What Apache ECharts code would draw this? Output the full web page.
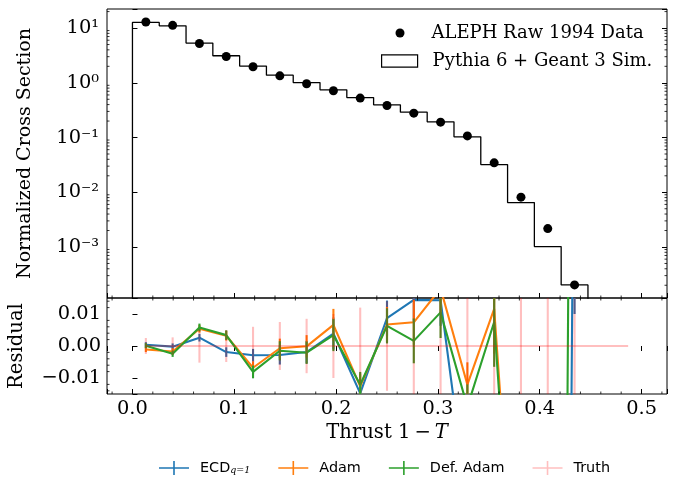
<!DOCTYPE html>
<html><head><meta charset="utf-8">
<script src="https://cdn.jsdelivr.net/npm/echarts@6/dist/echarts.min.js"></script>
<style>html,body{margin:0;padding:0;background:#fff}#c{width:673px;height:477px}</style>
</head><body><div id="c"></div>
<script>
// ---- data ----
const binEdges = [0, 0.02632, 0.05263, 0.07895, 0.10526, 0.13158, 0.15789, 0.18421, 0.21053, 0.23684,
  0.26316, 0.28947, 0.31579, 0.34211, 0.36842, 0.39474, 0.42105, 0.44737, 0.47368, 0.5];
const binCenters = [0.01316, 0.03947, 0.06579, 0.09211, 0.11842, 0.14474, 0.17105, 0.19737, 0.22368, 0.25,
  0.27632, 0.30263, 0.32895, 0.35526, 0.38158, 0.40789, 0.43421, 0.46053, 0.48684];
const alephData = [12.9, 11.2, 5.22, 3.03, 1.96, 1.34, 0.959, 0.715, 0.525, 0.385,
  0.279, 0.191, 0.107, 0.0345, 0.00813, 0.00217, 0.000203, null, null];
const pythiaSim = [12.7, 11.0, 5.32, 3.12, 2.02, 1.38, 1.01, 0.745, 0.538, 0.396,
  0.291, 0.194, 0.103, 0.0321, 0.00649, 0.00102, 0.000203, 0, 0];
const resECD = [0.0004, -0.0002, 0.0026, -0.0019, -0.0029, -0.0028, -0.0019, 0.0039, -0.0148, 0.0087,
  0.0144, 0.0143, -0.049, -0.2, -0.4, -1.0, 0.11, null, null];
const resAdam = [-0.0011, -0.0017, 0.0054, 0.0032, -0.0068, -0.0007, -0.0001, 0.0066, -0.0126, 0.0067,
  0.0074, 0.0180, -0.0121, 0.0116, -0.107, -0.6, -1.0, null, null];
const resDefAdam = [0.0001, -0.0024, 0.0058, 0.0034, -0.0081, -0.0015, -0.0021, 0.0034, -0.0121, 0.0063,
  0.0016, 0.0105, -0.019, 0.0075, -0.113, -0.9, 0.3, null, null];
const resTruth = [0, 0, 0, 0, 0, 0, 0, 0, 0, 0, 0, 0, 0, 0, 0, 0, 0, 0, 0];
const errModel = [0.0008, 0.001, 0.0012, 0.0015, 0.002, 0.003, 0.0035, 0.005, 0.004, 0.0055,
  0.007, 0.008, 0.007, 0.014, 0.02, 0.05, 0.1, null, null];
const errTruth = [0.0025, 0.0027, 0.0052, 0.005, 0.006, 0.0075, 0.0085, 0.01, 0.012, 0.014,
  0.02, 0.025, 0.03, 0.05, 0.1, 0.2, 0.5, null, null];
const xMajorTicks = [0, 0.1, 0.2, 0.3, 0.4, 0.5];
const xTickLabels = ['0.0', '0.1', '0.2', '0.3', '0.4', '0.5'];
const logMajorTicks = [1e-3, 1e-2, 1e-1, 1, 10];
const logTickLabels = ['10\u207B\u00B3', '10\u207B\u00B2', '10\u207B\u00B9', '10\u2070', '10\u00B9'];
const resMajorTicks = [-0.01, 0, 0.01];
const resTickLabels = ['\u22120.01', '0.00', '0.01'];

// ---- setup ----
const X_MIN = -0.025, X_MAX = 0.525;
const Y_MIN = 1.17e-4, Y_MAX = 22.3;
const R_MIN = -0.015, R_MAX = 0.015;
const SERIF = 'DejaVu Serif';
const SANS = 'DejaVu Sans';
const C_BLUE = '#1f77b4', C_ORANGE = '#ff7f0e', C_GREEN = '#2ca02c', C_TRUTH = 'rgba(255,0,0,0.25)';
const TICK_FS = 19.4, TITLE_FS = 19.6;

const xMinor = []; for (let k = -1; k <= 26; k++) if (k % 5 !== 0) xMinor.push(+(k * 0.02).toFixed(4));
const logMinor = []; for (let e = -4; e <= 1; e++) for (let m = 2; m <= 9; m++) { const v = m * Math.pow(10, e); if (v > Y_MIN && v < Y_MAX) logMinor.push(v); }
const resMinor = []; for (let k = -7; k <= 7; k++) if (k % 5 !== 0) resMinor.push(+(k * 0.002).toFixed(4));

const histData = [[binEdges[0], 1e-6]];
for (let i = 0; i < pythiaSim.length; i++) {
  if (pythiaSim[i] > 0) histData.push([binEdges[i], pythiaSim[i]]);
  else { histData.push([binEdges[i], 1e-6]); break; }
}
const pts = (ys) => binCenters.map((x, i) => [x, ys[i]]);

function errSeries(name, ys, errs, color, z) {
  return {
    name: name, type: 'custom', xAxisIndex: 2, yAxisIndex: 2, z: z, silent: true,
    data: binCenters.map((x, i) => [x, ys[i], errs[i]]).filter(d => d[1] != null && d[2] != null),
    renderItem: function (params, api) {
      const x = api.value(0), y = api.value(1), e = api.value(2);
      let lo = Math.max(R_MIN, y - e), hi = Math.min(R_MAX, y + e);
      if (lo >= hi) return null;
      const p1 = api.coord([x, lo]), p2 = api.coord([x, hi]);
      return { type: 'line', shape: { x1: p1[0], y1: p1[1], x2: p2[0], y2: p2[1] }, style: { stroke: color, lineWidth: 2.1 } };
    }
  };
}

function tickSeries(xi, yi, data, sides, len) {
  return {
    type: 'custom', xAxisIndex: xi, yAxisIndex: yi, z: 20, silent: true, clip: false,
    data: data,
    renderItem: function (params, api) {
      const cs = params.coordSys;
      const p = api.coord([api.value(0), api.value(1)]);
      const ch = [];
      const st = { stroke: '#000', lineWidth: 0.8 };
      sides.forEach(s => {
        if (s === 'bottom') ch.push({ type: 'line', shape: { x1: p[0], y1: cs.y + cs.height, x2: p[0], y2: cs.y + cs.height - len }, style: st });
        if (s === 'top') ch.push({ type: 'line', shape: { x1: p[0], y1: cs.y, x2: p[0], y2: cs.y + len }, style: st });
        if (s === 'left') ch.push({ type: 'line', shape: { x1: cs.x, y1: p[1], x2: cs.x + len, y2: p[1] }, style: st });
        if (s === 'right') ch.push({ type: 'line', shape: { x1: cs.x + cs.width, y1: p[1], x2: cs.x + cs.width - len, y2: p[1] }, style: st });
      });
      return { type: 'group', children: ch };
    }
  };
}

const tickCommon = { show: true, inside: true, length: 5, lineStyle: { color: '#000', width: 1 } };
const noLabel = { show: false };

const option = {
  backgroundColor: '#fff',
  animation: false,
  textStyle: { fontFamily: SERIF, color: '#000' },
  grid: [
    { left: 107, top: 9, width: 560, height: 289, show: true, borderColor: '#000', borderWidth: 1, backgroundColor: 'transparent', outerBoundsMode: 'none', containLabel: false },
    { left: 107, top: 298, width: 560, height: 96, show: true, borderColor: '#000', borderWidth: 1, backgroundColor: 'transparent', outerBoundsMode: 'none', containLabel: false }
  ],
  xAxis: [
    { type: 'value', gridIndex: 0, min: X_MIN, max: X_MAX, minInterval: 0.1, maxInterval: 0.1, position: 'bottom',
      axisLine: { show: false }, axisTick: tickCommon, axisLabel: noLabel, splitLine: { show: false } },
    { type: 'value', gridIndex: 1, min: X_MIN, max: X_MAX, minInterval: 0.1, maxInterval: 0.1, position: 'top',
      axisLine: { show: false }, axisTick: tickCommon, axisLabel: noLabel, splitLine: { show: false } },
    { type: 'value', gridIndex: 1, min: X_MIN, max: X_MAX, minInterval: 0.1, maxInterval: 0.1, position: 'bottom',
      axisLine: { show: false }, axisTick: tickCommon, splitLine: { show: false }, axisLabel: noLabel,
      name: '{n|Thrust 1\u2009\u2212\u2009}{i|T}', nameLocation: 'middle', nameGap: 29,
      nameTextStyle: { rich: { n: { fontFamily: SERIF, fontSize: TITLE_FS, color: '#000' }, i: { fontFamily: SERIF, fontStyle: 'italic', fontSize: TITLE_FS, color: '#000' } } } }
  ],
  yAxis: [
    { type: 'log', logBase: 10, gridIndex: 0, min: Y_MIN, max: Y_MAX, position: 'left',
      axisLine: { show: false }, axisTick: tickCommon, splitLine: { show: false }, axisLabel: noLabel,
      name: 'Normalized Cross Section', nameLocation: 'middle', nameGap: 72,
      nameTextStyle: { fontFamily: SERIF, fontSize: 19, color: '#000' } },
    { type: 'log', logBase: 10, gridIndex: 0, min: Y_MIN, max: Y_MAX, position: 'right',
      axisLine: { show: false }, axisTick: tickCommon, axisLabel: noLabel, splitLine: { show: false } },
    { type: 'value', gridIndex: 1, min: R_MIN, max: R_MAX, minInterval: 0.01, maxInterval: 0.01, position: 'left',
      axisLine: { show: false }, axisTick: tickCommon, splitLine: { show: false }, axisLabel: noLabel,
      name: 'Residual', nameLocation: 'middle', nameGap: 80,
      nameTextStyle: { fontFamily: SERIF, fontSize: TITLE_FS, color: '#000' } }
  ],
  legend: [
    { data: [{ name: 'ALEPH Raw 1994 Data', icon: 'circle' }], left: 395.5, top: 24, padding: 0, itemWidth: 9, itemHeight: 9,
      textStyle: { fontFamily: SERIF, fontSize: 18, color: '#000', padding: [0, 0, 0, 22] }, selectedMode: false },
    { data: [{ name: 'Pythia 6 + Geant 3 Sim.', icon: 'rect', itemStyle: { color: '#fff', borderColor: '#000', borderWidth: 1.2 } }],
      left: 381, top: 52, padding: 0, itemWidth: 36, itemHeight: 12.4,
      textStyle: { fontFamily: SERIF, fontSize: 18, color: '#000', padding: [0, 0, 0, 10] }, selectedMode: false },
    { data: ['ECD', 'Adam', 'Def. Adam', 'Truth'], left: 159, top: 461, padding: 0, itemWidth: 30, itemHeight: 14, itemGap: 28,
      icon: 'path://M0,6.2 L30,6.2 L30,7.8 L0,7.8 Z M14.2,0 L15.8,0 L15.8,14 L14.2,14 Z',
      selectedMode: false,
      formatter: name => name === 'ECD' ? '{a|ECD}{s|q=1}' : '{a|' + name + '}',
      textStyle: { padding: [0, 0, 0, 6], rich: {
        a: { fontFamily: SANS, fontSize: 14.4, color: '#000', lineHeight: 16 },
        s: { fontFamily: SERIF, fontStyle: 'italic', fontSize: 9.5, color: '#000', lineHeight: 8, verticalAlign: 'bottom' } } } }
  ],
  series: [
    { name: 'Pythia 6 + Geant 3 Sim.', type: 'line', xAxisIndex: 0, yAxisIndex: 0, step: 'end', data: histData,
      showSymbol: false, symbol: 'none', color: '#000', lineStyle: { color: '#000', width: 1.3 }, z: 2, silent: true },
    { name: 'ALEPH Raw 1994 Data', type: 'scatter', xAxisIndex: 0, yAxisIndex: 0, data: pts(alephData).filter(d => d[1] != null),
      symbol: 'circle', symbolSize: 9, itemStyle: { color: '#000', opacity: 1 }, z: 3, silent: true },
    { name: 'ECD', type: 'line', xAxisIndex: 2, yAxisIndex: 2, data: pts(resECD), showSymbol: false, symbol: 'none',
      color: C_BLUE, lineStyle: { color: C_BLUE, width: 2.1 }, z: 2, silent: true },
    errSeries('ECD_err', resECD, errModel, C_BLUE, 3),
    { name: 'Adam', type: 'line', xAxisIndex: 2, yAxisIndex: 2, data: pts(resAdam), showSymbol: false, symbol: 'none',
      color: C_ORANGE, lineStyle: { color: C_ORANGE, width: 2.1 }, z: 4, silent: true },
    errSeries('Adam_err', resAdam, errModel, C_ORANGE, 5),
    { name: 'Def. Adam', type: 'line', xAxisIndex: 2, yAxisIndex: 2, data: pts(resDefAdam), showSymbol: false, symbol: 'none',
      color: C_GREEN, lineStyle: { color: C_GREEN, width: 2.1 }, z: 6, silent: true },
    errSeries('DefAdam_err', resDefAdam, errModel, C_GREEN, 7),
    { name: 'Truth', type: 'line', xAxisIndex: 2, yAxisIndex: 2, data: pts(resTruth), showSymbol: false, symbol: 'none',
      color: C_TRUTH, lineStyle: { color: C_TRUTH, width: 2.1 }, z: 8, silent: true },
    errSeries('Truth_err', resTruth, errTruth, C_TRUTH, 9),
    tickSeries(0, 0, xMinor.map(v => [v, 1]), ['bottom'], 2.5),
    tickSeries(0, 0, logMinor.map(v => [0.2, v]), ['left', 'right'], 2.5),
    tickSeries(2, 2, xMinor.map(v => [v, 0]), ['top', 'bottom'], 2.5),
    tickSeries(2, 2, resMinor.map(v => [0.2, v]), ['left'], 2.5)
  ]
};
const chart = echarts.init(document.getElementById('c'), null, { renderer: 'canvas' });
chart.setOption(option);

// tick labels, positioned through the axes' own scales
const tickTexts = [];
function tickText(text, x, y, align, va) {
  tickTexts.push({ type: 'text', x: x, y: y, silent: true, z: 30,
    style: { text: text, fontFamily: SERIF, fontSize: TICK_FS, fill: '#000', align: align, verticalAlign: va, textAlign: align, textVerticalAlign: va } });
}
const xBottom = chart.convertToPixel({ yAxisIndex: 2 }, R_MIN);
xMajorTicks.forEach((v, i) => tickText(xTickLabels[i], chart.convertToPixel({ xAxisIndex: 2 }, v), xBottom + 5, 'center', 'top'));
const resLeft = chart.convertToPixel({ xAxisIndex: 2 }, X_MIN);
resMajorTicks.forEach((v, i) => tickText(resTickLabels[i], resLeft - 6, chart.convertToPixel({ yAxisIndex: 2 }, v), 'right', 'middle'));
const logLeft = chart.convertToPixel({ xAxisIndex: 0 }, X_MIN);
logMajorTicks.forEach((v, i) => tickText(logTickLabels[i], logLeft - 8, chart.convertToPixel({ yAxisIndex: 0 }, v), 'right', 'middle'));
chart.setOption({ graphic: tickTexts });
</script></body></html>
